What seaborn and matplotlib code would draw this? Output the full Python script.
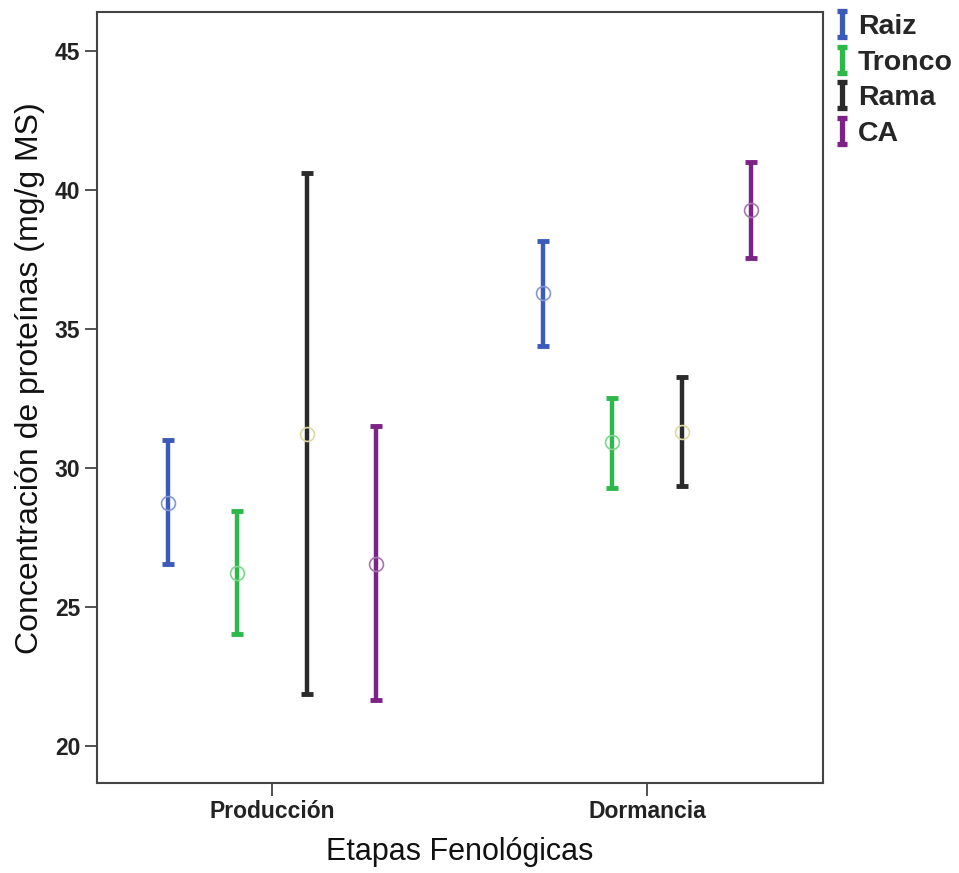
import matplotlib
matplotlib.use('Agg')
import numpy as np
import pandas as pd
import matplotlib.pyplot as plt
import seaborn as sns
from matplotlib.path import Path
from matplotlib.lines import Line2D

etapas = ['Producción', 'Dormancia']
organos = ['Raiz', 'Tronco', 'Rama', 'CA']

# media y limites del intervalo, por organo: [Produccion, Dormancia]
media_raiz = [28.74, 36.29]
inf_raiz = [26.55, 34.39]
sup_raiz = [31.00, 38.17]

media_tronco = [26.22, 30.94]
inf_tronco = [24.03, 29.28]
sup_tronco = [28.45, 32.52]

media_rama = [31.22, 31.29]
inf_rama = [21.87, 29.35]
sup_rama = [40.61, 33.27]

media_ca = [26.55, 39.28]
inf_ca = [21.65, 37.55]
sup_ca = [31.51, 41.00]

colores = ['#3a5bb8', '#2db84a', '#2b2b2b', '#7d2287']
colores_media = ['#8796d6', '#7fd48f', '#dcd9a0', '#a676b2']

rows = []
for org, m, lo, hi in zip(organos,
                          [media_raiz, media_tronco, media_rama, media_ca],
                          [inf_raiz, inf_tronco, inf_rama, inf_ca],
                          [sup_raiz, sup_tronco, sup_rama, sup_ca]):
    for i, et in enumerate(etapas):
        rows.append({'etapa': et, 'organo': org, 'media': m[i], 'inf': lo[i], 'sup': hi[i]})
df = pd.DataFrame(rows)

sns.set_theme(style='ticks')
plt.rcParams['font.family'] = ['Liberation Sans', 'DejaVu Sans']

fig = plt.figure(figsize=(9.59, 8.73), dpi=100)
ax = fig.add_axes([0.1011, 0.103, 0.7571, 0.883])

offsets = np.linspace(-0.278, 0.278, len(organos))
for k, org in enumerate(organos):
    d = df[df['organo'] == org]
    x = np.array([etapas.index(e) for e in d['etapa']]) + offsets[k]
    eb = ax.errorbar(x, d['media'], yerr=[d['media'] - d['inf'], d['sup'] - d['media']],
                     fmt='none', ecolor=colores[k], elinewidth=3.2, capsize=4.3, capthick=3.5)
    for cap in eb[1]:
        cap.set_solid_capstyle('round')
    ax.plot(x, d['media'], linestyle='none', marker='o', markersize=10,
            markerfacecolor='none', markeredgecolor=colores_media[k], markeredgewidth=1.2, zorder=5)

ax.set_xlim(-0.467, 1.469)
ax.set_ylim(18.67, 46.4)
ax.set_xticks(range(len(etapas)))
ax.set_xticklabels(etapas)
ax.set_yticks([20, 25, 30, 35, 40, 45])

for lab in ax.get_xticklabels() + ax.get_yticklabels():
    lab.set_fontweight('bold')
    lab.set_fontsize(16.5)
    lab.set_color('#222222')

ax.tick_params(axis='both', direction='out', length=9, width=1.3, color='#444444', pad=3)
for s in ax.spines.values():
    s.set_linewidth(1.5)
    s.set_color('#444444')

ax.set_xlabel('Etapas Fenológicas', fontsize=22, labelpad=10, color='#111111')
ax.set_ylabel('Concentración de proteínas (mg/g MS)', fontsize=23, color='#111111')
ax.yaxis.set_label_coords(-0.0715, 0.525)

ibeam = Path([(-0.4, -1), (0.4, -1), (0, -1), (0, 1), (-0.4, 1), (0.4, 1)],
             [Path.MOVETO, Path.LINETO, Path.MOVETO, Path.LINETO, Path.MOVETO, Path.LINETO])
handles = [Line2D([], [], linestyle='none', marker=ibeam, markersize=19,
                  markeredgecolor=c, markeredgewidth=3.8, markerfacecolor='none') for c in colores]
fig.legend(handles, organos, loc='upper left', bbox_to_anchor=(0.85, 1.003),
           frameon=False, handlelength=0.7, handletextpad=0.2,
           labelspacing=0.33, borderaxespad=0.2,
           prop={'weight': 'bold', 'size': 20.5})

fig.savefig('out.png', dpi=100)
